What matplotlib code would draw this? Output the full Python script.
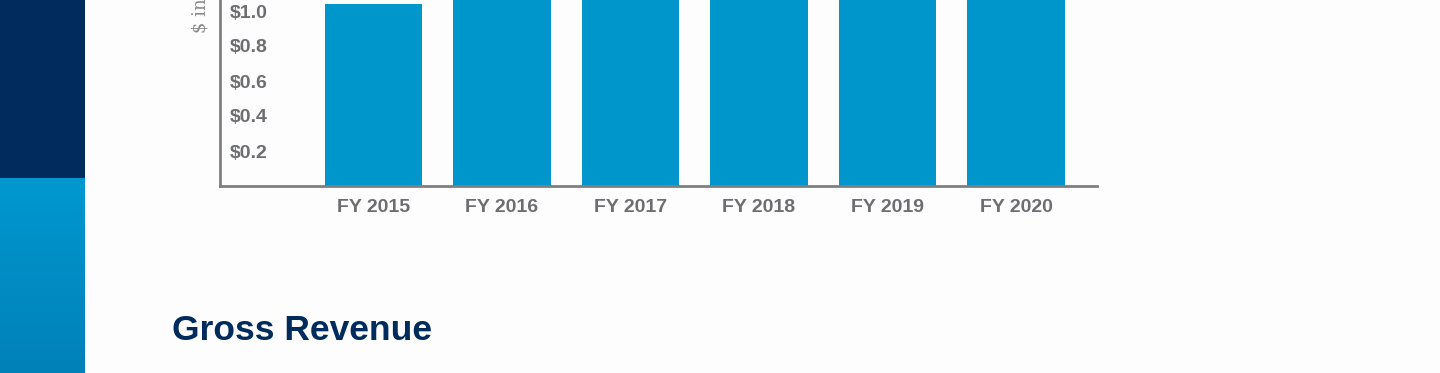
import numpy as np
import matplotlib.pyplot as plt
import matplotlib.colors as mcolors
from matplotlib.patches import Rectangle

plt.rcParams.update({
    "font.family": ["Liberation Sans", "DejaVu Sans"],
})

# datos
anios = ["FY 2015", "FY 2016", "FY 2017", "FY 2018", "FY 2019", "FY 2020"]
ingresos = [1.04, 1.18, 1.26, 1.32, 1.38, 1.45]
ticks_y = [0.2, 0.4, 0.6, 0.8, 1.0]
etiquetas_y = ["$0.2", "$0.4", "$0.6", "$0.8", "$1.0"]

azul = "#0096cc"
marino = "#002b5c"
gris = "#6d6e71"

W, H = 1440, 373
fig = plt.figure(figsize=(W / 100, H / 100), dpi=100)
fig.patch.set_facecolor("#fdfdfd")

# franja lateral
fig.patches.append(Rectangle((0, 1 - 178 / H), 85 / W, 178 / H,
                             transform=fig.transFigure, color=marino, zorder=0, lw=0))
ax_grad = fig.add_axes([0, 0, 85 / W, 1 - 178 / H])
c1 = np.array(mcolors.to_rgb("#0098d0"))
c2 = np.array(mcolors.to_rgb("#0081b8"))
t = np.linspace(0, 1, 200)[:, None]
grad = (c1 * (1 - t) + c2 * t)[:, None, :]
ax_grad.imshow(grad, aspect="auto")
ax_grad.axis("off")

# grafico
ax = fig.add_axes([220 / W, 1 - 186 / H, (1097 - 220) / W, 186 / H])
ax.set_facecolor("none")
x = np.arange(len(anios))
ax.bar(x, ingresos, width=0.76, color=azul, zorder=2)

ax.set_xlim(-1.195, 5.63)
ax.set_ylim(0, 186 / 175)

for s in ["top", "right"]:
    ax.spines[s].set_visible(False)
for s in ["left", "bottom"]:
    ax.spines[s].set_color("#7f7f7f")
    ax.spines[s].set_linewidth(2)

ax.set_xticks(x)
ax.set_xticklabels(anios, fontsize=14, fontweight="bold", color=gris)
ax.set_yticks(ticks_y)
ax.set_yticklabels(etiquetas_y, fontsize=14, fontweight="bold", color=gris, ha="left")
ax.tick_params(axis="x", length=0, pad=9)
ax.tick_params(axis="y", length=0, pad=-7)

fig.text(200 / W, 1 - 33 / H, "$ in Billions", rotation=90, ha="center", va="bottom",
         family="DejaVu Serif", fontsize=13, color="#8a8a8a")

fig.text(172 / W, 1 - 340 / H, "Gross Revenue", fontsize=25.5, fontweight="bold",
         color=marino, ha="left", va="baseline")

fig.savefig("out.png", dpi=100, facecolor=fig.get_facecolor())
